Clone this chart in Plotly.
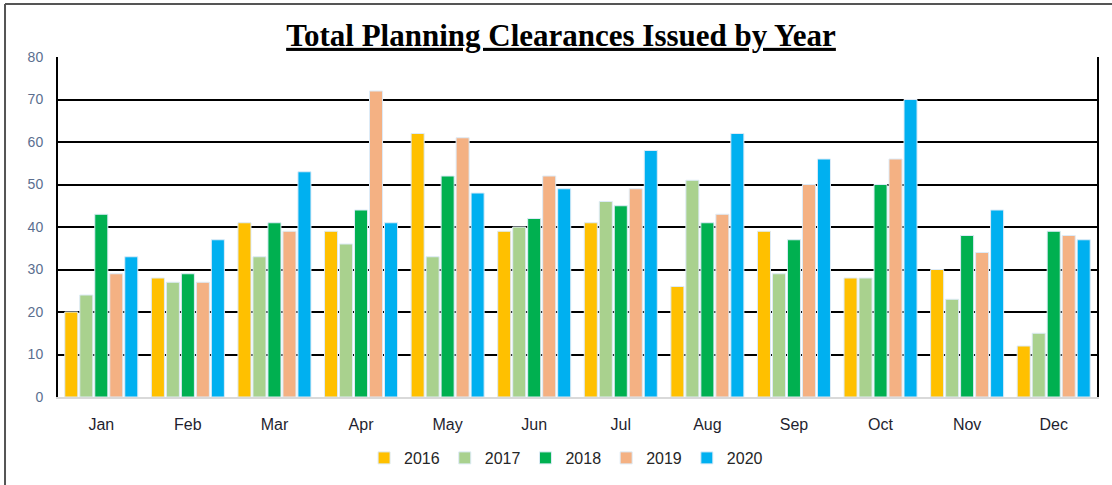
import plotly.graph_objects as go

months = ["Jan", "Feb", "Mar", "Apr", "May", "Jun", "Jul", "Aug", "Sep", "Oct", "Nov", "Dec"]
years = ["2016", "2017", "2018", "2019", "2020"]
v2016 = [20, 28, 41, 39, 62, 39, 41, 26, 39, 28, 30, 12]
v2017 = [24, 27, 33, 36, 33, 40, 46, 51, 29, 28, 23, 15]
v2018 = [43, 29, 41, 44, 52, 42, 45, 41, 37, 50, 38, 39]
v2019 = [29, 27, 39, 72, 61, 52, 49, 43, 50, 56, 34, 38]
v2020 = [33, 37, 53, 41, 48, 49, 58, 62, 56, 70, 44, 37]
series = [v2016, v2017, v2018, v2019, v2020]
colors = ["#FFC000", "#A9D18E", "#00B050", "#F4B183", "#00B0F0"]

fig = go.Figure()
for name, vals, col in zip(years, series, colors):
    fig.add_trace(go.Bar(
        x=months, y=vals, name=name,
        marker=dict(color=col, line=dict(color="#DDEBF7", width=1)),
    ))

fig.update_layout(
    width=1112, height=485,
    margin=dict(l=58, r=15, t=57, b=88, autoexpand=False),
    paper_bgcolor="white", plot_bgcolor="white",
    barmode="group", bargap=0.134, bargroupgap=0.13,
    title=dict(
        text="<b><u>Total Planning Clearances Issued by Year</u></b>",
        font=dict(family="Liberation Serif", size=31, color="black"),
        x=0.5045, xanchor="center", y=1 - 35 / 485, yanchor="middle",
    ),
    font=dict(family="Liberation Sans"),
    legend=dict(
        orientation="h", x=0.489, xanchor="center",
        yref="container", y=1 - 458 / 485, yanchor="middle",
        font=dict(family="Liberation Sans", size=16, color="#262626"),
        itemwidth=30, traceorder="normal",
    ),
    showlegend=True,
)
fig.update_xaxes(
    showline=True, linecolor="#D9D9D9", linewidth=1.5,
    showgrid=False, ticks="", automargin=False,
    tickfont=dict(family="Liberation Sans", size=16, color="#1F1F2F"),
    ticklabelstandoff=12,
)
fig.update_yaxes(
    range=[0, 80], dtick=10,
    showline=True, linecolor="black", linewidth=2, mirror=True,
    showgrid=True, gridcolor="black", gridwidth=1.5,
    zeroline=False, ticks="", automargin=False,
    tickfont=dict(family="Liberation Sans", size=14, color="#5B6E8F"),
    ticklabelstandoff=10,
)
fig.add_shape(type="line", xref="paper", yref="paper",
              x0=-0.051, x1=-0.051, y0=-0.35, y1=1.156,
              line=dict(color="#555555", width=2))
fig.add_shape(type="line", xref="paper", yref="paper",
              x0=-0.051, x1=1.1, y0=1.156, y1=1.156,
              line=dict(color="#555555", width=2))

fig.write_html("out.html")
